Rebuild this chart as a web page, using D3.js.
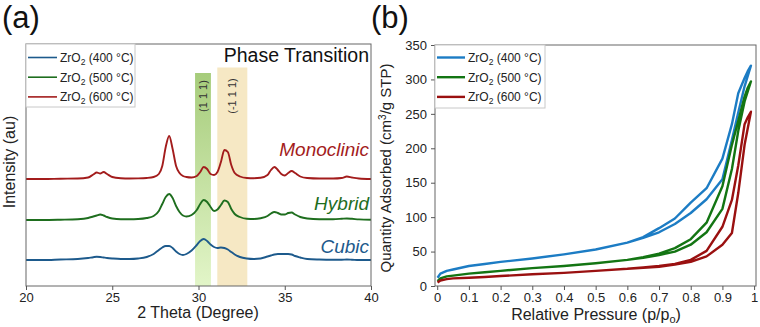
<!DOCTYPE html>
<html>
<head>
<meta charset="utf-8">
<script src="https://cdn.jsdelivr.net/npm/d3@7"></script>
<style>
  body { margin: 0; background: #fff; }
  svg { font-family: "Liberation Sans", Arial, sans-serif; display: block; }
  .axis path { display: none; }
  .axis line { stroke: #555; }
  .axis text { font-size: 13px; fill: #222; font-family: "Liberation Sans", Arial, sans-serif; }
</style>
</head>
<body>
<div id="chart"></div>
<script>
// ---- (a) XRD patterns ----
const twoTheta = [20, 21, 22, 23, 23.6, 23.9, 24.1, 24.3, 24.5, 24.7, 25.0, 25.5, 26, 26.5, 27, 27.4, 27.7, 27.9, 28.1, 28.3,
    28.5, 28.7, 28.9, 29.1, 29.3, 29.6, 29.9, 30.1, 30.3, 30.5, 30.7, 30.9, 31.1, 31.3, 31.5, 31.7, 31.9, 32.1, 32.4, 32.8,
    33.2, 33.6, 34.0, 34.2, 34.4, 34.6, 34.8, 35.0, 35.2, 35.4, 35.6, 35.9, 36.3, 37, 37.8, 38.3, 38.6, 38.9, 39.3, 40];
const xrd400 = [0, 0, 0.5, 1, 2, 2.8, 3.2, 3, 2.5, 2, 1.5, 1, 1, 1.5, 3, 6, 10, 12.5, 14, 14,
    12, 8.5, 6, 5, 6, 9.5, 15, 19, 21, 19, 15.5, 13, 12, 12.5, 12, 10.5, 8, 5.5, 3, 1.5,
    1, 1.5, 3.5, 4.5, 5.5, 6, 6, 6, 6, 5.5, 4, 2.5, 1, 0.5, 0.3, 0.3, 0.5, 0.3, 0, 0];
const xrd500 = [0, 0, 0.3, 0.8, 2, 3.5, 4.5, 5.5, 4.5, 3, 1.5, 0.8, 0.8, 1, 2, 4, 9, 16, 23, 26,
    22, 14, 8, 4.5, 3.5, 5, 10, 16, 20, 18, 13, 9, 10.5, 15, 19.5, 18, 11, 6, 3, 1.2,
    1, 1.8, 4, 6.5, 8, 7, 5.5, 5.5, 7, 7.5, 5.5, 3, 1.5, 0.7, 0.8, 1.2, 1.5, 1.2, 0.6, 0.3];
const xrd600 = [0, 0, 0.3, 0.5, 1.5, 4.5, 6.5, 5.5, 7, 5, 2, 0.8, 0.5, 0.6, 1, 2, 5, 13, 32, 43,
    30, 13, 6, 3, 2, 1.5, 3, 7, 12, 10, 5, 4, 7, 17, 29, 27, 14, 6, 2.5, 1,
    0.8, 1.2, 4, 9, 12, 9, 5, 3.5, 6, 8, 6, 2.5, 1, 0.5, 0.5, 1, 2.5, 1.5, 0.5, 0];
const xrdOffsets = [26, 66, 107];
const xrdNames = ['Cubic', 'Hybrid', 'Monoclinic'];
const xTicksA = [20, 25, 30, 35, 40];
const band111 = [29.8, 30.72];
const bandM111 = [31.09, 32.83];

// ---- (b) N2 isotherms ----
const pAds = [0.001, 0.01, 0.03, 0.05, 0.1, 0.15, 0.2, 0.3, 0.4, 0.5, 0.6, 0.65, 0.7, 0.75, 0.8, 0.85, 0.9, 0.93, 0.95, 0.97, 0.99];
const pDes = [0.99, 0.98, 0.97, 0.95, 0.93, 0.9, 0.85, 0.8, 0.75, 0.7, 0.65, 0.6];
const ads400 = [12, 18, 22, 24, 29, 32, 35, 40, 46, 53, 63, 70, 78, 90, 106, 126, 155, 212, 252, 290, 320];
const des400 = [320, 312, 302, 280, 235, 185, 142, 121, 98, 84, 71, 63];
const ads500 = [7, 11, 14, 15, 18, 20, 22, 26, 29, 33, 38, 41, 45, 50, 60, 78, 112, 170, 225, 268, 297];
const des500 = [297, 288, 275, 240, 205, 145, 92, 68, 55, 47, 42, 38];
const ads600 = [5, 8, 10, 11, 12, 13, 14.5, 17, 19, 22, 25, 26.5, 28, 31, 35, 43, 60, 77, 135, 205, 253];
const des600 = [253, 245, 235, 175, 125, 86, 51, 38, 32, 29, 27, 25];
const xTicksB = [0, 0.1, 0.2, 0.3, 0.4, 0.5, 0.6, 0.7, 0.8, 0.9, 1];
const yTicksB = [0, 50, 100, 150, 200, 250, 300, 350];

const legendLabels = ['400', '500', '600'];
const colorsA = ['#1d5a8c', '#1e6e1e', '#a31c1c'];
const colorsB = ['#1c7cc4', '#137513', '#9a1010'];

const svg = d3.select('#chart').append('svg')
    .attr('width', 760)
    .attr('height', 327);

const defs = svg.append('defs');
const grad = defs.append('linearGradient')
    .attr('id', 'greenBand')
    .attr('x1', 0).attr('y1', 0).attr('x2', 0).attr('y2', 1);
grad.append('stop').attr('offset', '0%').attr('stop-color', '#a6cc7b');
grad.append('stop').attr('offset', '100%').attr('stop-color', '#e2f5c8');

function legendText(sel, label) {
    sel.append('tspan').text('ZrO');
    sel.append('tspan').attr('font-size', '8.5px').attr('dy', 3).text('2');
    sel.append('tspan').attr('dy', -3).text(' (' + label + ' °C)');
}

// ================= panel (a) =================
const xA = d3.scaleLinear().domain([20, 40]).range([26, 371]);
const yA = d3.scaleLinear().domain([0, 242]).range([286, 44]);

svg.append('text').attr('x', 2).attr('y', 28)
    .attr('font-size', '31px').attr('fill', '#111').text('(a)');

// phase bands
svg.append('rect')
    .attr('x', xA(band111[0])).attr('y', 73)
    .attr('width', xA(band111[1]) - xA(band111[0]))
    .attr('height', yA(0) - 73)
    .attr('fill', 'url(#greenBand)');
svg.append('rect')
    .attr('x', xA(bandM111[0])).attr('y', 67.5)
    .attr('width', xA(bandM111[1]) - xA(bandM111[0]))
    .attr('height', yA(0) - 67.5)
    .attr('fill', '#f6e8c4');

[['(1 1 1)', band111], ['(-1 1 1)', bandM111]].forEach(([t, b]) => {
    const cx = xA((b[0] + b[1]) / 2) + 4;
    svg.append('text')
        .attr('transform', 'translate(' + cx + ',96) rotate(-90)')
        .attr('text-anchor', 'middle')
        .attr('font-size', '11px')
        .attr('fill', '#333')
        .text(t);
});

const lineA = d3.line()
    .x(d => xA(d[0]))
    .y(d => yA(d[1]))
    .curve(d3.curveMonotoneX);

[xrd400, xrd500, xrd600].forEach((series, i) => {
    const pts = twoTheta.map((t, j) => [t, series[j] + xrdOffsets[i]]);
    svg.append('path')
        .datum(pts)
        .attr('d', lineA)
        .attr('fill', 'none')
        .attr('stroke', colorsA[i])
        .attr('stroke-width', 1.9)
        .attr('stroke-linejoin', 'round');
});

// phase labels on the right
const nameY = [252.5, 210, 155.5];
xrdNames.forEach((n, i) => {
    svg.append('text')
        .attr('x', 369).attr('y', nameY[i])
        .attr('text-anchor', 'end')
        .attr('font-size', '19px')
        .attr('font-style', 'italic')
        .attr('fill', colorsA[i])
        .text(n);
});

svg.append('text').attr('x', 369).attr('y', 62)
    .attr('text-anchor', 'end').attr('font-size', '19.5px').attr('fill', '#111')
    .text('Phase Transition');

svg.append('rect')
    .attr('x', 26).attr('y', 44).attr('width', 345).attr('height', 242)
    .attr('fill', 'none').attr('stroke', '#666');

svg.append('g')
    .attr('class', 'axis')
    .attr('transform', 'translate(0,286)')
    .call(d3.axisBottom(xA).tickValues(xTicksA).tickSize(4).tickPadding(3).tickSizeOuter(0));

svg.append('text')
    .attr('x', 198).attr('y', 318)
    .attr('text-anchor', 'middle').attr('font-size', '16px').attr('fill', '#222')
    .text('2 Theta (Degree)');
svg.append('text')
    .attr('transform', 'translate(15,162) rotate(-90)')
    .attr('text-anchor', 'middle').attr('font-size', '16px').attr('fill', '#222')
    .text('Intensity (au)');

// legend (a)
const legA = svg.append('g');
legA.append('rect').attr('x', 26).attr('y', 44).attr('width', 109).attr('height', 63)
    .attr('fill', '#fff').attr('stroke', '#c8c8c8');
legendLabels.forEach((l, i) => {
    const y = 57.5 + i * 19.7;
    legA.append('line').attr('x1', 28).attr('x2', 57).attr('y1', y).attr('y2', y)
        .attr('stroke', colorsA[i]).attr('stroke-width', 1.6);
    legA.append('text').attr('x', 60).attr('y', y + 4.5)
        .attr('font-size', '12px').attr('fill', '#222')
        .call(legendText, l);
});

// ================= panel (b) =================
const xB = d3.scaleLinear().domain([-0.007, 1.006]).range([435, 756]);
const yB = d3.scaleLinear().domain([0, 350]).range([286, 45]);

svg.append('text').attr('x', 371).attr('y', 28)
    .attr('font-size', '31px').attr('fill', '#111').text('(b)');

const lineB = d3.line()
    .x(d => xB(d[0]))
    .y(d => yB(d[1]));

[[ads400, des400], [ads500, des500], [ads600, des600]].forEach(([a, d], i) => {
    const pts = pAds.map((p, j) => [p, a[j]]).concat(pDes.map((p, j) => [p, d[j]]));
    svg.append('path')
        .datum(pts)
        .attr('d', lineB)
        .attr('fill', 'none')
        .attr('stroke', colorsB[i])
        .attr('stroke-width', 2.4)
        .attr('stroke-linejoin', 'round');
});

svg.append('rect')
    .attr('x', 435).attr('y', 45).attr('width', 321).attr('height', 241)
    .attr('fill', 'none').attr('stroke', '#666');

svg.append('g')
    .attr('class', 'axis')
    .attr('transform', 'translate(0,286)')
    .call(d3.axisBottom(xB).tickValues(xTicksB).tickFormat(d3.format('~g')).tickSize(4).tickPadding(3).tickSizeOuter(0));
svg.append('g')
    .attr('class', 'axis')
    .attr('transform', 'translate(435,0)')
    .call(d3.axisLeft(yB).tickValues(yTicksB).tickSize(4).tickPadding(4).tickSizeOuter(0));

const xlab = svg.append('text')
    .attr('x', 596).attr('y', 320)
    .attr('text-anchor', 'middle').attr('font-size', '16px').attr('fill', '#222');
xlab.append('tspan').text('Relative Pressure (p/p');
xlab.append('tspan').attr('font-size', '11px').attr('dy', 3).text('o');
xlab.append('tspan').attr('dy', -3).text(')');

const ylab = svg.append('text')
    .attr('transform', 'translate(391,168) rotate(-90)')
    .attr('text-anchor', 'middle').attr('font-size', '15px').attr('fill', '#222');
ylab.append('tspan').text('Quantity Adsorbed (cm');
ylab.append('tspan').attr('font-size', '10px').attr('dy', -5).text('3');
ylab.append('tspan').attr('dy', 5).text('/g STP)');

// legend (b)
const legB = svg.append('g');
legB.append('rect').attr('x', 435).attr('y', 45).attr('width', 110).attr('height', 63)
    .attr('fill', '#fff').attr('stroke', '#c8c8c8');
legendLabels.forEach((l, i) => {
    const y = 57.5 + i * 19.7;
    legB.append('line').attr('x1', 437).attr('x2', 465).attr('y1', y).attr('y2', y)
        .attr('stroke', colorsB[i]).attr('stroke-width', 2.4);
    legB.append('text').attr('x', 468).attr('y', y + 4.5)
        .attr('font-size', '12px').attr('fill', '#222')
        .call(legendText, l);
});
</script>
</body>
</html>
